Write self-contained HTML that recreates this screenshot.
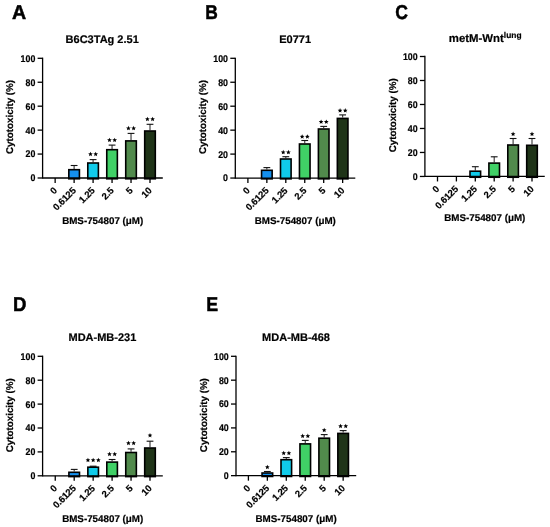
<!DOCTYPE html>
<html><head><meta charset="utf-8"><style>
html,body{margin:0;padding:0;background:#fff;}
svg{display:block;will-change:transform;}
text{font-family:"Liberation Sans",sans-serif;font-weight:bold;fill:#000;text-rendering:geometricPrecision;stroke:#000;stroke-width:0.2px;}
.let{font-size:20px;stroke:#000;stroke-width:0.5px;}
.ttl{font-size:11px;}
.sup{font-size:8.4px;}
.ttlc{font-size:11.4px;}
.ylab{font-size:9.8px;}
.xlab{font-size:9.8px;}
.tk{font-size:9.8px;}
.tkx{font-size:9.4px;letter-spacing:-0.1px;}
.ax{stroke:#000;stroke-width:1.30;}
.bar{stroke:#000;stroke-width:1.60;}
.err{stroke:#333;stroke-width:1.1;}
.cap{stroke:#111;stroke-width:1.1;}
</style></head><body>
<svg width="550" height="527" viewBox="0 0 550 527">
<text transform="translate(18.95,19.25) scale(0.980,1)" class="let" text-anchor="middle">A</text>
<text x="102.20" y="42.70" class="ttl" text-anchor="middle">B6C3TAg 2.51</text>
<text transform="translate(12.90,153.95) rotate(-90)" class="ylab">Cytotoxicity (%)</text>
<line x1="74.12" y1="165.50" x2="74.12" y2="168.90" class="err"/>
<line x1="70.72" y1="165.50" x2="77.52" y2="165.50" class="cap"/>
<rect x="68.82" y="169.70" width="10.60" height="9.10" fill="#1590ee" class="bar"/>
<line x1="93.09" y1="159.60" x2="93.09" y2="162.20" class="err"/>
<line x1="89.69" y1="159.60" x2="96.49" y2="159.60" class="cap"/>
<rect x="87.79" y="163.00" width="10.60" height="15.80" fill="#10cbea" class="bar"/>
<line x1="112.06" y1="145.10" x2="112.06" y2="148.90" class="err"/>
<line x1="108.66" y1="145.10" x2="115.46" y2="145.10" class="cap"/>
<rect x="106.76" y="149.70" width="10.60" height="29.10" fill="#40d066" class="bar"/>
<line x1="131.03" y1="133.40" x2="131.03" y2="140.10" class="err"/>
<line x1="127.63" y1="133.40" x2="134.43" y2="133.40" class="cap"/>
<rect x="125.73" y="140.90" width="10.60" height="37.90" fill="#518a4c" class="bar"/>
<line x1="150.00" y1="124.30" x2="150.00" y2="130.20" class="err"/>
<line x1="146.60" y1="124.30" x2="153.40" y2="124.30" class="cap"/>
<rect x="144.70" y="131.00" width="10.60" height="47.80" fill="#1f3418" class="bar"/>
<path d="M90.49,151.80 L91.15,153.33 L92.82,153.49 L91.56,154.59 L91.93,156.23 L90.49,155.37 L89.05,156.23 L89.42,154.59 L88.16,153.49 L89.83,153.33ZM95.69,151.80 L96.35,153.33 L98.02,153.49 L96.76,154.59 L97.13,156.23 L95.69,155.37 L94.25,156.23 L94.62,154.59 L93.36,153.49 L95.03,153.33Z" fill="#000"/>
<path d="M109.46,137.65 L110.12,139.18 L111.79,139.34 L110.53,140.44 L110.90,142.08 L109.46,141.22 L108.02,142.08 L108.39,140.44 L107.13,139.34 L108.80,139.18ZM114.66,137.65 L115.32,139.18 L116.99,139.34 L115.73,140.44 L116.10,142.08 L114.66,141.22 L113.22,142.08 L113.59,140.44 L112.33,139.34 L114.00,139.18Z" fill="#000"/>
<path d="M128.43,125.85 L129.09,127.38 L130.76,127.54 L129.50,128.64 L129.87,130.28 L128.43,129.42 L126.99,130.28 L127.36,128.64 L126.10,127.54 L127.77,127.38ZM133.63,125.85 L134.29,127.38 L135.96,127.54 L134.70,128.64 L135.07,130.28 L133.63,129.42 L132.19,130.28 L132.56,128.64 L131.30,127.54 L132.97,127.38Z" fill="#000"/>
<path d="M147.40,116.80 L148.06,118.33 L149.73,118.49 L148.47,119.59 L148.84,121.23 L147.40,120.37 L145.96,121.23 L146.33,119.59 L145.07,118.49 L146.74,118.33ZM152.60,116.80 L153.26,118.33 L154.93,118.49 L153.67,119.59 L154.04,121.23 L152.60,120.37 L151.16,121.23 L151.53,119.59 L150.27,118.49 L151.94,118.33Z" fill="#000"/>
<line x1="42.60" y1="57.65" x2="42.60" y2="178.65" class="ax"/>
<line x1="42.60" y1="178.00" x2="162.80" y2="178.00" class="ax"/>
<line x1="37.60" y1="178.00" x2="42.60" y2="178.00" class="ax"/>
<text transform="translate(35.30,181.40) scale(0.9,1)" class="tk" text-anchor="end">0</text>
<line x1="37.60" y1="154.06" x2="42.60" y2="154.06" class="ax"/>
<text transform="translate(35.30,157.46) scale(0.9,1)" class="tk" text-anchor="end">20</text>
<line x1="37.60" y1="130.12" x2="42.60" y2="130.12" class="ax"/>
<text transform="translate(35.30,133.52) scale(0.9,1)" class="tk" text-anchor="end">40</text>
<line x1="37.60" y1="106.18" x2="42.60" y2="106.18" class="ax"/>
<text transform="translate(35.30,109.58) scale(0.9,1)" class="tk" text-anchor="end">60</text>
<line x1="37.60" y1="82.24" x2="42.60" y2="82.24" class="ax"/>
<text transform="translate(35.30,85.64) scale(0.9,1)" class="tk" text-anchor="end">80</text>
<line x1="37.60" y1="58.30" x2="42.60" y2="58.30" class="ax"/>
<text transform="translate(35.30,61.70) scale(0.9,1)" class="tk" text-anchor="end">100</text>
<line x1="55.15" y1="178.00" x2="55.15" y2="183.00" class="ax"/>
<text transform="translate(57.55,191.20) rotate(-45)" class="tkx" text-anchor="end">0</text>
<line x1="74.12" y1="178.00" x2="74.12" y2="183.00" class="ax"/>
<text transform="translate(76.52,191.20) rotate(-45)" class="tkx" text-anchor="end">0.6125</text>
<line x1="93.09" y1="178.00" x2="93.09" y2="183.00" class="ax"/>
<text transform="translate(95.49,191.20) rotate(-45)" class="tkx" text-anchor="end">1.25</text>
<line x1="112.06" y1="178.00" x2="112.06" y2="183.00" class="ax"/>
<text transform="translate(114.46,191.20) rotate(-45)" class="tkx" text-anchor="end">2.5</text>
<line x1="131.03" y1="178.00" x2="131.03" y2="183.00" class="ax"/>
<text transform="translate(133.43,191.20) rotate(-45)" class="tkx" text-anchor="end">5</text>
<line x1="150.00" y1="178.00" x2="150.00" y2="183.00" class="ax"/>
<text transform="translate(152.40,191.20) rotate(-45)" class="tkx" text-anchor="end">10</text>
<text x="102.70" y="224.30" class="xlab" text-anchor="middle">BMS-754807 (μM)</text>
<text transform="translate(211.60,19.05) scale(0.870,1)" class="let" text-anchor="middle">B</text>
<text x="295.10" y="42.70" class="ttl" text-anchor="middle">E0771</text>
<text transform="translate(205.60,153.95) rotate(-90)" class="ylab">Cytotoxicity (%)</text>
<line x1="266.85" y1="167.60" x2="266.85" y2="169.50" class="err"/>
<line x1="263.45" y1="167.60" x2="270.25" y2="167.60" class="cap"/>
<rect x="261.55" y="170.30" width="10.60" height="8.55" fill="#1590ee" class="bar"/>
<line x1="285.80" y1="156.70" x2="285.80" y2="158.20" class="err"/>
<line x1="282.40" y1="156.70" x2="289.20" y2="156.70" class="cap"/>
<rect x="280.50" y="159.00" width="10.60" height="19.85" fill="#10cbea" class="bar"/>
<line x1="304.75" y1="140.50" x2="304.75" y2="143.20" class="err"/>
<line x1="301.35" y1="140.50" x2="308.15" y2="140.50" class="cap"/>
<rect x="299.45" y="144.00" width="10.60" height="34.85" fill="#40d066" class="bar"/>
<line x1="323.70" y1="126.40" x2="323.70" y2="128.20" class="err"/>
<line x1="320.30" y1="126.40" x2="327.10" y2="126.40" class="cap"/>
<rect x="318.40" y="129.00" width="10.60" height="49.85" fill="#518a4c" class="bar"/>
<line x1="342.65" y1="114.90" x2="342.65" y2="117.60" class="err"/>
<line x1="339.25" y1="114.90" x2="346.05" y2="114.90" class="cap"/>
<rect x="337.35" y="118.40" width="10.60" height="60.45" fill="#1f3418" class="bar"/>
<path d="M283.20,149.85 L283.86,151.38 L285.53,151.54 L284.27,152.64 L284.64,154.28 L283.20,153.42 L281.76,154.28 L282.13,152.64 L280.87,151.54 L282.54,151.38ZM288.40,149.85 L289.06,151.38 L290.73,151.54 L289.47,152.64 L289.84,154.28 L288.40,153.42 L286.96,154.28 L287.33,152.64 L286.07,151.54 L287.74,151.38Z" fill="#000"/>
<path d="M302.15,134.25 L302.81,135.78 L304.48,135.94 L303.22,137.04 L303.59,138.68 L302.15,137.82 L300.71,138.68 L301.08,137.04 L299.82,135.94 L301.49,135.78ZM307.35,134.25 L308.01,135.78 L309.68,135.94 L308.42,137.04 L308.79,138.68 L307.35,137.82 L305.91,138.68 L306.28,137.04 L305.02,135.94 L306.69,135.78Z" fill="#000"/>
<path d="M321.10,119.39 L321.76,120.93 L323.43,121.09 L322.17,122.19 L322.54,123.83 L321.10,122.97 L319.66,123.83 L320.03,122.19 L318.77,121.09 L320.44,120.93ZM326.30,119.39 L326.96,120.93 L328.63,121.09 L327.37,122.19 L327.74,123.83 L326.30,122.97 L324.86,123.83 L325.23,122.19 L323.97,121.09 L325.64,120.93Z" fill="#000"/>
<path d="M340.05,108.09 L340.71,109.63 L342.38,109.79 L341.12,110.89 L341.49,112.53 L340.05,111.67 L338.61,112.53 L338.98,110.89 L337.72,109.79 L339.39,109.63ZM345.25,108.09 L345.91,109.63 L347.58,109.79 L346.32,110.89 L346.69,112.53 L345.25,111.67 L343.81,112.53 L344.18,110.89 L342.92,109.79 L344.59,109.63Z" fill="#000"/>
<line x1="235.30" y1="57.65" x2="235.30" y2="178.70" class="ax"/>
<line x1="235.30" y1="178.05" x2="355.30" y2="178.05" class="ax"/>
<line x1="230.30" y1="178.05" x2="235.30" y2="178.05" class="ax"/>
<text transform="translate(228.00,181.45) scale(0.9,1)" class="tk" text-anchor="end">0</text>
<line x1="230.30" y1="154.10" x2="235.30" y2="154.10" class="ax"/>
<text transform="translate(228.00,157.50) scale(0.9,1)" class="tk" text-anchor="end">20</text>
<line x1="230.30" y1="130.15" x2="235.30" y2="130.15" class="ax"/>
<text transform="translate(228.00,133.55) scale(0.9,1)" class="tk" text-anchor="end">40</text>
<line x1="230.30" y1="106.20" x2="235.30" y2="106.20" class="ax"/>
<text transform="translate(228.00,109.60) scale(0.9,1)" class="tk" text-anchor="end">60</text>
<line x1="230.30" y1="82.25" x2="235.30" y2="82.25" class="ax"/>
<text transform="translate(228.00,85.65) scale(0.9,1)" class="tk" text-anchor="end">80</text>
<line x1="230.30" y1="58.30" x2="235.30" y2="58.30" class="ax"/>
<text transform="translate(228.00,61.70) scale(0.9,1)" class="tk" text-anchor="end">100</text>
<line x1="247.90" y1="178.05" x2="247.90" y2="183.05" class="ax"/>
<text transform="translate(250.30,191.25) rotate(-45)" class="tkx" text-anchor="end">0</text>
<line x1="266.85" y1="178.05" x2="266.85" y2="183.05" class="ax"/>
<text transform="translate(269.25,191.25) rotate(-45)" class="tkx" text-anchor="end">0.6125</text>
<line x1="285.80" y1="178.05" x2="285.80" y2="183.05" class="ax"/>
<text transform="translate(288.20,191.25) rotate(-45)" class="tkx" text-anchor="end">1.25</text>
<line x1="304.75" y1="178.05" x2="304.75" y2="183.05" class="ax"/>
<text transform="translate(307.15,191.25) rotate(-45)" class="tkx" text-anchor="end">2.5</text>
<line x1="323.70" y1="178.05" x2="323.70" y2="183.05" class="ax"/>
<text transform="translate(326.10,191.25) rotate(-45)" class="tkx" text-anchor="end">5</text>
<line x1="342.65" y1="178.05" x2="342.65" y2="183.05" class="ax"/>
<text transform="translate(345.05,191.25) rotate(-45)" class="tkx" text-anchor="end">10</text>
<text x="295.30" y="224.35" class="xlab" text-anchor="middle">BMS-754807 (μM)</text>
<text transform="translate(401.65,18.85) scale(0.880,1)" class="let" text-anchor="middle">C</text>
<text x="448.8" y="41.50" class="ttlc">metM-Wnt<tspan class="sup" dy="-3.4">lung</tspan></text>
<text transform="translate(396.30,152.35) rotate(-90)" class="ylab">Cytotoxicity (%)</text>
<line x1="475.30" y1="166.70" x2="475.30" y2="170.40" class="err"/>
<line x1="471.90" y1="166.70" x2="478.70" y2="166.70" class="cap"/>
<rect x="470.00" y="171.20" width="10.60" height="6.05" fill="#10cbea" class="bar"/>
<line x1="494.20" y1="156.80" x2="494.20" y2="162.30" class="err"/>
<line x1="490.80" y1="156.80" x2="497.60" y2="156.80" class="cap"/>
<rect x="488.90" y="163.10" width="10.60" height="14.15" fill="#40d066" class="bar"/>
<line x1="513.10" y1="138.50" x2="513.10" y2="144.20" class="err"/>
<line x1="509.70" y1="138.50" x2="516.50" y2="138.50" class="cap"/>
<rect x="507.80" y="145.00" width="10.60" height="32.25" fill="#518a4c" class="bar"/>
<line x1="532.00" y1="138.50" x2="532.00" y2="144.50" class="err"/>
<line x1="528.60" y1="138.50" x2="535.40" y2="138.50" class="cap"/>
<rect x="526.70" y="145.30" width="10.60" height="31.95" fill="#1f3418" class="bar"/>
<path d="M513.10,131.60 L513.76,133.13 L515.43,133.29 L514.17,134.39 L514.54,136.03 L513.10,135.17 L511.66,136.03 L512.03,134.39 L510.77,133.29 L512.44,133.13Z" fill="#000"/>
<path d="M532.00,131.60 L532.66,133.13 L534.33,133.29 L533.07,134.39 L533.44,136.03 L532.00,135.17 L530.56,136.03 L530.93,134.39 L529.67,133.29 L531.34,133.13Z" fill="#000"/>
<line x1="424.90" y1="55.85" x2="424.90" y2="177.10" class="ax"/>
<line x1="424.90" y1="176.45" x2="544.75" y2="176.45" class="ax"/>
<line x1="419.90" y1="176.45" x2="424.90" y2="176.45" class="ax"/>
<text transform="translate(417.60,179.85) scale(0.9,1)" class="tk" text-anchor="end">0</text>
<line x1="419.90" y1="152.46" x2="424.90" y2="152.46" class="ax"/>
<text transform="translate(417.60,155.86) scale(0.9,1)" class="tk" text-anchor="end">20</text>
<line x1="419.90" y1="128.47" x2="424.90" y2="128.47" class="ax"/>
<text transform="translate(417.60,131.87) scale(0.9,1)" class="tk" text-anchor="end">40</text>
<line x1="419.90" y1="104.48" x2="424.90" y2="104.48" class="ax"/>
<text transform="translate(417.60,107.88) scale(0.9,1)" class="tk" text-anchor="end">60</text>
<line x1="419.90" y1="80.49" x2="424.90" y2="80.49" class="ax"/>
<text transform="translate(417.60,83.89) scale(0.9,1)" class="tk" text-anchor="end">80</text>
<line x1="419.90" y1="56.50" x2="424.90" y2="56.50" class="ax"/>
<text transform="translate(417.60,59.90) scale(0.9,1)" class="tk" text-anchor="end">100</text>
<line x1="437.50" y1="176.45" x2="437.50" y2="181.45" class="ax"/>
<text transform="translate(439.90,189.65) rotate(-45)" class="tkx" text-anchor="end">0</text>
<line x1="456.40" y1="176.45" x2="456.40" y2="181.45" class="ax"/>
<text transform="translate(458.80,189.65) rotate(-45)" class="tkx" text-anchor="end">0.6125</text>
<line x1="475.30" y1="176.45" x2="475.30" y2="181.45" class="ax"/>
<text transform="translate(477.70,189.65) rotate(-45)" class="tkx" text-anchor="end">1.25</text>
<line x1="494.20" y1="176.45" x2="494.20" y2="181.45" class="ax"/>
<text transform="translate(496.60,189.65) rotate(-45)" class="tkx" text-anchor="end">2.5</text>
<line x1="513.10" y1="176.45" x2="513.10" y2="181.45" class="ax"/>
<text transform="translate(515.50,189.65) rotate(-45)" class="tkx" text-anchor="end">5</text>
<line x1="532.00" y1="176.45" x2="532.00" y2="181.45" class="ax"/>
<text transform="translate(534.40,189.65) rotate(-45)" class="tkx" text-anchor="end">10</text>
<text x="484.82" y="221.25" class="xlab" text-anchor="middle">BMS-754807 (μM)</text>
<text transform="translate(19.60,310.90) scale(0.930,1)" class="let" text-anchor="middle">D</text>
<text x="102.40" y="340.60" class="ttl" text-anchor="middle">MDA-MB-231</text>
<text transform="translate(12.60,452.30) rotate(-90)" class="ylab">Cytotoxicity (%)</text>
<line x1="74.20" y1="469.40" x2="74.20" y2="471.50" class="err"/>
<line x1="70.80" y1="469.40" x2="77.60" y2="469.40" class="cap"/>
<rect x="68.90" y="472.30" width="10.60" height="4.30" fill="#1590ee" class="bar"/>
<line x1="93.15" y1="466.20" x2="93.15" y2="466.40" class="err"/>
<line x1="89.75" y1="466.20" x2="96.55" y2="466.20" class="cap"/>
<rect x="87.85" y="467.20" width="10.60" height="9.40" fill="#10cbea" class="bar"/>
<line x1="112.10" y1="459.50" x2="112.10" y2="461.30" class="err"/>
<line x1="108.70" y1="459.50" x2="115.50" y2="459.50" class="cap"/>
<rect x="106.80" y="462.10" width="10.60" height="14.50" fill="#40d066" class="bar"/>
<line x1="131.05" y1="448.90" x2="131.05" y2="451.70" class="err"/>
<line x1="127.65" y1="448.90" x2="134.45" y2="448.90" class="cap"/>
<rect x="125.75" y="452.50" width="10.60" height="24.10" fill="#518a4c" class="bar"/>
<line x1="150.00" y1="441.20" x2="150.00" y2="447.20" class="err"/>
<line x1="146.60" y1="441.20" x2="153.40" y2="441.20" class="cap"/>
<rect x="144.70" y="448.00" width="10.60" height="28.60" fill="#1f3418" class="bar"/>
<path d="M87.95,457.80 L88.61,459.33 L90.28,459.49 L89.02,460.59 L89.39,462.23 L87.95,461.37 L86.51,462.23 L86.88,460.59 L85.62,459.49 L87.29,459.33ZM93.15,457.80 L93.81,459.33 L95.48,459.49 L94.22,460.59 L94.59,462.23 L93.15,461.37 L91.71,462.23 L92.08,460.59 L90.82,459.49 L92.49,459.33ZM98.35,457.80 L99.01,459.33 L100.68,459.49 L99.42,460.59 L99.79,462.23 L98.35,461.37 L96.91,462.23 L97.28,460.59 L96.02,459.49 L97.69,459.33Z" fill="#000"/>
<path d="M109.50,451.69 L110.16,453.23 L111.83,453.39 L110.57,454.49 L110.94,456.13 L109.50,455.27 L108.06,456.13 L108.43,454.49 L107.17,453.39 L108.84,453.23ZM114.70,451.69 L115.36,453.23 L117.03,453.39 L115.77,454.49 L116.14,456.13 L114.70,455.27 L113.26,456.13 L113.63,454.49 L112.37,453.39 L114.04,453.23Z" fill="#000"/>
<path d="M128.45,440.69 L129.11,442.23 L130.78,442.39 L129.52,443.49 L129.89,445.13 L128.45,444.27 L127.01,445.13 L127.38,443.49 L126.12,442.39 L127.79,442.23ZM133.65,440.69 L134.31,442.23 L135.98,442.39 L134.72,443.49 L135.09,445.13 L133.65,444.27 L132.21,445.13 L132.58,443.49 L131.32,442.39 L132.99,442.23Z" fill="#000"/>
<path d="M150.00,432.94 L150.66,434.48 L152.33,434.64 L151.07,435.74 L151.44,437.38 L150.00,436.52 L148.56,437.38 L148.93,435.74 L147.67,434.64 L149.34,434.48Z" fill="#000"/>
<line x1="42.60" y1="355.65" x2="42.60" y2="476.45" class="ax"/>
<line x1="42.60" y1="475.80" x2="162.80" y2="475.80" class="ax"/>
<line x1="37.60" y1="475.80" x2="42.60" y2="475.80" class="ax"/>
<text transform="translate(35.30,479.20) scale(0.9,1)" class="tk" text-anchor="end">0</text>
<line x1="37.60" y1="451.90" x2="42.60" y2="451.90" class="ax"/>
<text transform="translate(35.30,455.30) scale(0.9,1)" class="tk" text-anchor="end">20</text>
<line x1="37.60" y1="428.00" x2="42.60" y2="428.00" class="ax"/>
<text transform="translate(35.30,431.40) scale(0.9,1)" class="tk" text-anchor="end">40</text>
<line x1="37.60" y1="404.10" x2="42.60" y2="404.10" class="ax"/>
<text transform="translate(35.30,407.50) scale(0.9,1)" class="tk" text-anchor="end">60</text>
<line x1="37.60" y1="380.20" x2="42.60" y2="380.20" class="ax"/>
<text transform="translate(35.30,383.60) scale(0.9,1)" class="tk" text-anchor="end">80</text>
<line x1="37.60" y1="356.30" x2="42.60" y2="356.30" class="ax"/>
<text transform="translate(35.30,359.70) scale(0.9,1)" class="tk" text-anchor="end">100</text>
<line x1="55.25" y1="475.80" x2="55.25" y2="480.80" class="ax"/>
<text transform="translate(57.65,489.00) rotate(-45)" class="tkx" text-anchor="end">0</text>
<line x1="74.20" y1="475.80" x2="74.20" y2="480.80" class="ax"/>
<text transform="translate(76.60,489.00) rotate(-45)" class="tkx" text-anchor="end">0.6125</text>
<line x1="93.15" y1="475.80" x2="93.15" y2="480.80" class="ax"/>
<text transform="translate(95.55,489.00) rotate(-45)" class="tkx" text-anchor="end">1.25</text>
<line x1="112.10" y1="475.80" x2="112.10" y2="480.80" class="ax"/>
<text transform="translate(114.50,489.00) rotate(-45)" class="tkx" text-anchor="end">2.5</text>
<line x1="131.05" y1="475.80" x2="131.05" y2="480.80" class="ax"/>
<text transform="translate(133.45,489.00) rotate(-45)" class="tkx" text-anchor="end">5</text>
<line x1="150.00" y1="475.80" x2="150.00" y2="480.80" class="ax"/>
<text transform="translate(152.40,489.00) rotate(-45)" class="tkx" text-anchor="end">10</text>
<text x="102.70" y="522.10" class="xlab" text-anchor="middle">BMS-754807 (μM)</text>
<text transform="translate(212.15,311.20) scale(0.890,1)" class="let" text-anchor="middle">E</text>
<text x="296.00" y="340.60" class="ttl" text-anchor="middle">MDA-MB-468</text>
<text transform="translate(206.60,452.15) rotate(-90)" class="ylab">Cytotoxicity (%)</text>
<line x1="267.35" y1="471.50" x2="267.35" y2="472.20" class="err"/>
<line x1="263.95" y1="471.50" x2="270.75" y2="471.50" class="cap"/>
<rect x="262.05" y="473.00" width="10.60" height="3.45" fill="#1590ee" class="bar"/>
<line x1="286.30" y1="457.60" x2="286.30" y2="458.90" class="err"/>
<line x1="282.90" y1="457.60" x2="289.70" y2="457.60" class="cap"/>
<rect x="281.00" y="459.70" width="10.60" height="16.75" fill="#10cbea" class="bar"/>
<line x1="305.25" y1="440.40" x2="305.25" y2="443.10" class="err"/>
<line x1="301.85" y1="440.40" x2="308.65" y2="440.40" class="cap"/>
<rect x="299.95" y="443.90" width="10.60" height="32.55" fill="#40d066" class="bar"/>
<line x1="324.20" y1="434.60" x2="324.20" y2="437.40" class="err"/>
<line x1="320.80" y1="434.60" x2="327.60" y2="434.60" class="cap"/>
<rect x="318.90" y="438.20" width="10.60" height="38.25" fill="#518a4c" class="bar"/>
<line x1="343.15" y1="430.60" x2="343.15" y2="432.60" class="err"/>
<line x1="339.75" y1="430.60" x2="346.55" y2="430.60" class="cap"/>
<rect x="337.85" y="433.40" width="10.60" height="43.05" fill="#1f3418" class="bar"/>
<path d="M267.35,464.80 L268.01,466.33 L269.68,466.49 L268.42,467.59 L268.79,469.23 L267.35,468.37 L265.91,469.23 L266.28,467.59 L265.02,466.49 L266.69,466.33Z" fill="#000"/>
<path d="M283.70,450.69 L284.36,452.23 L286.03,452.39 L284.77,453.49 L285.14,455.13 L283.70,454.27 L282.26,455.13 L282.63,453.49 L281.37,452.39 L283.04,452.23ZM288.90,450.69 L289.56,452.23 L291.23,452.39 L289.97,453.49 L290.34,455.13 L288.90,454.27 L287.46,455.13 L287.83,453.49 L286.57,452.39 L288.24,452.23Z" fill="#000"/>
<path d="M302.65,433.60 L303.31,435.13 L304.98,435.29 L303.72,436.39 L304.09,438.03 L302.65,437.17 L301.21,438.03 L301.58,436.39 L300.32,435.29 L301.99,435.13ZM307.85,433.60 L308.51,435.13 L310.18,435.29 L308.92,436.39 L309.29,438.03 L307.85,437.17 L306.41,438.03 L306.78,436.39 L305.52,435.29 L307.19,435.13Z" fill="#000"/>
<path d="M324.20,427.69 L324.86,429.23 L326.53,429.39 L325.27,430.49 L325.64,432.13 L324.20,431.27 L322.76,432.13 L323.13,430.49 L321.87,429.39 L323.54,429.23Z" fill="#000"/>
<path d="M340.55,423.69 L341.21,425.23 L342.88,425.39 L341.62,426.49 L341.99,428.13 L340.55,427.27 L339.11,428.13 L339.48,426.49 L338.22,425.39 L339.89,425.23ZM345.75,423.69 L346.41,425.23 L348.08,425.39 L346.82,426.49 L347.19,428.13 L345.75,427.27 L344.31,428.13 L344.68,426.49 L343.42,425.39 L345.09,425.23Z" fill="#000"/>
<line x1="236.00" y1="355.65" x2="236.00" y2="476.30" class="ax"/>
<line x1="236.00" y1="475.65" x2="356.20" y2="475.65" class="ax"/>
<line x1="231.00" y1="475.65" x2="236.00" y2="475.65" class="ax"/>
<text transform="translate(228.70,479.05) scale(0.9,1)" class="tk" text-anchor="end">0</text>
<line x1="231.00" y1="451.78" x2="236.00" y2="451.78" class="ax"/>
<text transform="translate(228.70,455.18) scale(0.9,1)" class="tk" text-anchor="end">20</text>
<line x1="231.00" y1="427.91" x2="236.00" y2="427.91" class="ax"/>
<text transform="translate(228.70,431.31) scale(0.9,1)" class="tk" text-anchor="end">40</text>
<line x1="231.00" y1="404.04" x2="236.00" y2="404.04" class="ax"/>
<text transform="translate(228.70,407.44) scale(0.9,1)" class="tk" text-anchor="end">60</text>
<line x1="231.00" y1="380.17" x2="236.00" y2="380.17" class="ax"/>
<text transform="translate(228.70,383.57) scale(0.9,1)" class="tk" text-anchor="end">80</text>
<line x1="231.00" y1="356.30" x2="236.00" y2="356.30" class="ax"/>
<text transform="translate(228.70,359.70) scale(0.9,1)" class="tk" text-anchor="end">100</text>
<line x1="248.40" y1="475.65" x2="248.40" y2="480.65" class="ax"/>
<text transform="translate(250.80,488.85) rotate(-45)" class="tkx" text-anchor="end">0</text>
<line x1="267.35" y1="475.65" x2="267.35" y2="480.65" class="ax"/>
<text transform="translate(269.75,488.85) rotate(-45)" class="tkx" text-anchor="end">0.6125</text>
<line x1="286.30" y1="475.65" x2="286.30" y2="480.65" class="ax"/>
<text transform="translate(288.70,488.85) rotate(-45)" class="tkx" text-anchor="end">1.25</text>
<line x1="305.25" y1="475.65" x2="305.25" y2="480.65" class="ax"/>
<text transform="translate(307.65,488.85) rotate(-45)" class="tkx" text-anchor="end">2.5</text>
<line x1="324.20" y1="475.65" x2="324.20" y2="480.65" class="ax"/>
<text transform="translate(326.60,488.85) rotate(-45)" class="tkx" text-anchor="end">5</text>
<line x1="343.15" y1="475.65" x2="343.15" y2="480.65" class="ax"/>
<text transform="translate(345.55,488.85) rotate(-45)" class="tkx" text-anchor="end">10</text>
<text x="296.10" y="521.95" class="xlab" text-anchor="middle">BMS-754807 (μM)</text>
</svg>
</body></html>
